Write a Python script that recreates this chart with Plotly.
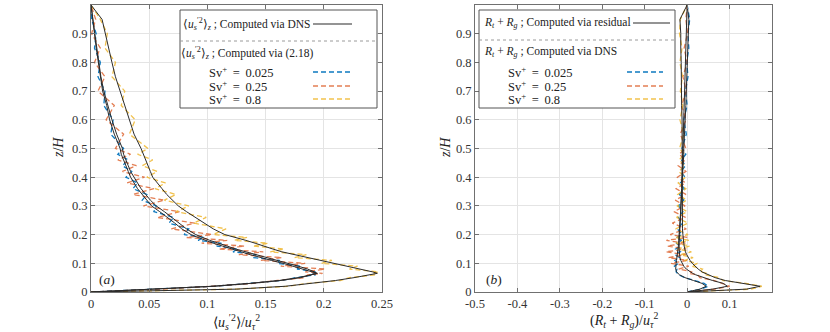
import plotly.graph_objects as go

W, H = 830, 332

# ---------------- data ----------------
z = [0.00, 0.01, 0.02, 0.03, 0.04, 0.05, 0.06, 0.065, 0.07, 0.08, 0.09, 0.10, 0.11, 0.12, 0.13,
     0.14, 0.15, 0.16, 0.17, 0.18, 0.19, 0.20, 0.22, 0.24, 0.26, 0.28, 0.30, 0.32, 0.34, 0.36,
     0.38, 0.40, 0.42, 0.44, 0.46, 0.48, 0.50, 0.55, 0.60, 0.65, 0.70, 0.75, 0.80, 0.85, 0.90,
     0.95, 1.00]

sv_labels = ["0.025", "0.25", "0.8"]

# panel (a): <u_s'^2>_z computed via DNS (black)
a_dns_025 = [0, 0.060, 0.105, 0.137, 0.162, 0.178, 0.190, 0.1945, 0.190, 0.182, 0.174, 0.165, 0.155,
             0.145, 0.137, 0.129, 0.120, 0.113, 0.105, 0.098, 0.092, 0.086, 0.078, 0.072, 0.066,
             0.059, 0.052, 0.048, 0.044, 0.040, 0.037, 0.034, 0.032, 0.030, 0.028, 0.026, 0.025,
             0.020, 0.016, 0.0135, 0.010, 0.008, 0.006, 0.0045, 0.003, 0.0015, 0.0]
a_dns_25 = [0, 0.060, 0.105, 0.137, 0.162, 0.180, 0.191, 0.194, 0.192, 0.186, 0.178, 0.169, 0.159,
            0.149, 0.141, 0.133, 0.124, 0.117, 0.109, 0.102, 0.096, 0.090, 0.082, 0.076, 0.070,
            0.063, 0.056, 0.051, 0.047, 0.043, 0.040, 0.037, 0.034, 0.032, 0.030, 0.028, 0.027,
            0.022, 0.018, 0.0145, 0.011, 0.0085, 0.0065, 0.005, 0.0033, 0.0017, 0.0]
a_dns_8 = [0, 0.125, 0.167, 0.190, 0.210, 0.226, 0.240, 0.246, 0.242, 0.231, 0.219, 0.208, 0.197,
           0.185, 0.174, 0.164, 0.156, 0.149, 0.141, 0.133, 0.124, 0.115, 0.105, 0.097, 0.089,
           0.082, 0.075, 0.070, 0.065, 0.061, 0.057, 0.053, 0.051, 0.049, 0.047, 0.045, 0.043,
           0.037, 0.033, 0.029, 0.025, 0.021, 0.018, 0.015, 0.012, 0.0095, 0.0]

# panel (a): <u_s'^2>_z computed via (2.18) (coloured, dashed)
a_eq_025 = [0, 0.060, 0.106, 0.136, 0.164, 0.176, 0.193, 0.1905, 0.193, 0.177, 0.180, 0.160, 0.162,
            0.139, 0.142, 0.122, 0.126, 0.108, 0.112, 0.092, 0.097, 0.080, 0.084, 0.067, 0.071,
            0.054, 0.056, 0.044, 0.048, 0.036, 0.040, 0.030, 0.035, 0.027, 0.032, 0.023, 0.028,
            0.017, 0.019, 0.011, 0.012, 0.006, 0.008, 0.003, 0.0045, 0.0005, 0.0]
a_eq_25 = [0, 0.061, 0.104, 0.139, 0.160, 0.184, 0.186, 0.199, 0.184, 0.201, 0.163, 0.184, 0.146,
           0.164, 0.127, 0.148, 0.110, 0.132, 0.095, 0.117, 0.082, 0.104, 0.069, 0.089, 0.057,
           0.076, 0.045, 0.063, 0.036, 0.054, 0.031, 0.046, 0.027, 0.039, 0.023, 0.034, 0.021,
           0.028, 0.013, 0.020, 0.006, 0.012, 0.003, 0.008, 0.0005, 0.004, 0.0]
a_eq_8 = [0, 0.124, 0.170, 0.186, 0.214, 0.222, 0.245, 0.243, 0.247, 0.222, 0.229, 0.198, 0.207,
          0.175, 0.185, 0.154, 0.166, 0.139, 0.152, 0.123, 0.134, 0.105, 0.116, 0.088, 0.099,
          0.073, 0.084, 0.063, 0.073, 0.055, 0.064, 0.048, 0.057, 0.044, 0.053, 0.040, 0.049,
          0.033, 0.038, 0.026, 0.029, 0.018, 0.021, 0.012, 0.014, 0.008, 0.0]

# panel (b): R_t + R_g computed via residual (black)
b_res_025 = [0, 0.030, 0.045, 0.035, 0.015, -0.005, -0.018, -0.022, -0.025, -0.027, -0.027, -0.026,
             -0.025, -0.024, -0.023, -0.022, -0.022, -0.021, -0.020, -0.020, -0.019, -0.019,
             -0.018, -0.017, -0.016, -0.015, -0.015, -0.014, -0.013, -0.012, -0.012, -0.011,
             -0.010, -0.010, -0.009, -0.008, -0.008, -0.006, -0.005, -0.003, -0.002, -0.001,
             0.000, 0.001, 0.002, 0.004, 0.0]
b_res_25 = [0, 0.060, 0.095, 0.085, 0.060, 0.038, 0.020, 0.013, 0.007, -0.002, -0.008, -0.012,
            -0.015, -0.017, -0.018, -0.019, -0.019, -0.019, -0.019, -0.018, -0.018, -0.018,
            -0.017, -0.016, -0.016, -0.015, -0.015, -0.014, -0.014, -0.013, -0.013, -0.012,
            -0.012, -0.011, -0.011, -0.010, -0.010, -0.009, -0.008, -0.007, -0.006, -0.005,
            -0.004, -0.003, -0.002, -0.001, 0.0]
b_res_8 = [0, 0.140, 0.172, 0.130, 0.090, 0.066, 0.048, 0.041, 0.035, 0.026, 0.018, 0.012, 0.007,
           0.002, -0.001, -0.004, -0.006, -0.007, -0.008, -0.009, -0.010, -0.010, -0.011, -0.011,
           -0.012, -0.012, -0.012, -0.012, -0.012, -0.012, -0.012, -0.012, -0.012, -0.012,
           -0.012, -0.012, -0.012, -0.012, -0.012, -0.013, -0.013, -0.014, -0.014, -0.015,
           -0.015, -0.017, 0.0]

# panel (b): R_t + R_g computed via DNS (coloured, dashed)
b_dns_025 = [0, 0.032, 0.050, 0.040, 0.018, -0.006, -0.020, -0.024, -0.026, -0.024, -0.030, -0.020,
             -0.029, -0.018, -0.028, -0.016, -0.027, -0.015, -0.026, -0.013, -0.025, -0.012,
             -0.023, -0.011, -0.021, -0.010, -0.020, -0.008, -0.018, -0.007, -0.016, -0.005,
             -0.015, -0.004, -0.013, -0.003, -0.012, -0.002, -0.008, 0.000, -0.004, 0.002,
             -0.001, 0.004, 0.002, 0.006, 0.0]
b_dns_25 = [0, 0.065, 0.100, 0.082, 0.064, 0.030, 0.025, 0.004, 0.012, -0.020, 0.004, -0.038,
            0.000, -0.044, -0.003, -0.050, -0.002, -0.047, -0.004, -0.049, 0.000, -0.040,
            -0.002, -0.035, -0.004, -0.031, -0.005, -0.028, -0.003, -0.026, -0.004, -0.023,
            -0.003, -0.021, -0.004, -0.019, -0.003, -0.016, -0.003, -0.013, -0.002, -0.010,
            0.000, -0.007, 0.001, -0.003, 0.0]
b_dns_8 = [0, 0.150, 0.176, 0.138, 0.085, 0.075, 0.044, 0.048, 0.030, 0.036, 0.010, 0.024, -0.006,
           0.014, -0.016, 0.010, -0.022, 0.006, -0.026, 0.004, -0.028, 0.002, -0.027, 0.002,
           -0.025, 0.000, -0.024, -0.001, -0.022, -0.003, -0.021, -0.004, -0.020, -0.005,
           -0.019, -0.006, -0.018, -0.008, -0.017, -0.010, -0.016, -0.011, -0.017, -0.012,
           -0.018, -0.016, 0.0]

xa_ticks = [0, 0.05, 0.1, 0.15, 0.2, 0.25]
xb_ticks = [-0.5, -0.4, -0.3, -0.2, -0.1, 0, 0.1]
y_ticks = [0, 0.1, 0.2, 0.3, 0.4, 0.5, 0.6, 0.7, 0.8, 0.9, 1]

# ---------------- styling ----------------
COLORS = ["rgba(0,114,189,0.95)", "rgba(217,83,25,0.75)", "rgba(237,177,32,0.8)"]
BLACK = "#2b2b2b"
DASH = "5px,3px"
FONT = "Liberation Serif"


def fx(p):
    return p / W


def fy(p):
    return 1 - p / H


fig = go.Figure()

for vals, c in zip([a_eq_025, a_eq_25, a_eq_8], COLORS):
    fig.add_trace(go.Scatter(x=vals, y=z, mode="lines", xaxis="x", yaxis="y",
                             line=dict(color=c, width=1.3, dash=DASH), showlegend=False))
for vals in [a_dns_025, a_dns_25, a_dns_8]:
    fig.add_trace(go.Scatter(x=vals, y=z, mode="lines", xaxis="x", yaxis="y",
                             line=dict(color=BLACK, width=1), showlegend=False))
for vals, c in zip([b_dns_025, b_dns_25, b_dns_8], COLORS):
    fig.add_trace(go.Scatter(x=vals, y=z, mode="lines", xaxis="x2", yaxis="y2",
                             line=dict(color=c, width=1.3, dash=DASH), showlegend=False))
for vals in [b_res_025, b_res_25, b_res_8]:
    fig.add_trace(go.Scatter(x=vals, y=z, mode="lines", xaxis="x2", yaxis="y2",
                             line=dict(color=BLACK, width=1), showlegend=False))

ax_common = dict(showgrid=True, gridcolor="#e4e4e4", gridwidth=1, showline=True,
                 linecolor="#707070", linewidth=1, mirror="ticks", ticks="inside",
                 ticklen=4, tickcolor="#707070", zeroline=False, automargin=False,
                 tickfont=dict(family=FONT, size=12.5, color="#333"))

ydom = [fy(292), fy(5)]
fig.update_layout(
    width=W, height=H, margin=dict(l=0, r=0, t=0, b=0, pad=0, autoexpand=False),
    paper_bgcolor="white", plot_bgcolor="white",
    xaxis=dict(domain=[fx(91), fx(382)], range=[0, 0.25], anchor="y",
               tickvals=xa_ticks, ticktext=[str(t) for t in xa_ticks], **ax_common),
    yaxis=dict(domain=ydom, range=[0, 1], anchor="x",
               tickvals=y_ticks, ticktext=[str(t) for t in y_ticks], **ax_common),
    xaxis2=dict(domain=[fx(475), fx(772)], range=[-0.5, 0.2], anchor="y2",
                tickvals=xb_ticks, ticktext=[str(t) for t in xb_ticks], **ax_common),
    yaxis2=dict(domain=ydom, range=[0, 1], anchor="x2",
                tickvals=y_ticks, ticktext=[str(t) for t in y_ticks], **ax_common),
)

shapes = []
ann = []


def text(x, y, s, size=12, xanchor="left", angle=0):
    ann.append(dict(x=fx(x), y=fy(y), xref="paper", yref="paper", text=s, showarrow=False,
                    xanchor=xanchor, yanchor="middle", textangle=angle, borderpad=0,
                    font=dict(family=FONT, size=size, color="#222")))


def seg(x0, x1, y, color, dash="solid", width=1.3):
    shapes.append(dict(type="line", xref="paper", yref="paper", x0=fx(x0), x1=fx(x1),
                       y0=fy(y), y1=fy(y), line=dict(color=color, width=width, dash=dash)))


us2 = "⟨<i>u</i><sub><i>s</i></sub><sup>′2</sup>⟩"
rr = "<i>R<sub>t</sub></i> + <i>R<sub>g</sub></i>"
sv_eq = "Sv<sup>+</sup>&#8201;&nbsp;=&nbsp;&#8201;"

# legend (a)
shapes.append(dict(type="rect", xref="paper", yref="paper", x0=fx(180), x1=fx(377),
                   y0=fy(108), y1=fy(10), fillcolor="white",
                   line=dict(color="#555", width=1), layer="above"))
seg(180, 377, 41, "#9a9a9a", dash="dot", width=1)
text(182, 24, us2 + "<sub><i>z</i></sub> ; Computed via DNS", 11.5)
seg(313, 352, 24, BLACK, width=1.2)
text(180, 53, us2 + "<sub><i>z</i></sub> ; Computed via (2.18)", 11.5)
for i, (lab, c) in enumerate(zip(sv_labels, COLORS)):
    yy = [72, 86, 99][i]
    text(208, yy, sv_eq + lab, 12.5)
    seg(313, 352, yy, c, dash=DASH, width=1.5)

# legend (b)
shapes.append(dict(type="rect", xref="paper", yref="paper", x0=fx(479), x1=fx(675),
                   y0=fy(108), y1=fy(10), fillcolor="white",
                   line=dict(color="#555", width=1), layer="above"))
seg(479, 675, 40, "#9a9a9a", dash="dot", width=1)
text(483, 23, rr + " ; Computed via residual", 11.5)
seg(633, 670, 23, BLACK, width=1.2)
text(483, 52, rr + " ; Computed via DNS", 11.5)
for i, (lab, c) in enumerate(zip(sv_labels, COLORS)):
    yy = [72, 86, 99][i]
    text(507, yy, sv_eq + lab, 12.5)
    seg(627, 663, yy, c, dash=DASH, width=1.5)

# panel labels
text(98, 279, "(<i>a</i>)", 13.5)
text(485, 279, "(<i>b</i>)", 13.5)

# axis titles
text(236, 322, us2 + "/<i>u</i><sub><i>τ</i></sub><sup>2</sup>", 14, xanchor="center")
text(624, 320, "(" + rr + ")/<i>u</i><sub><i>τ</i></sub><sup>2</sup>", 14, xanchor="center")
text(58, 148, "<i>z</i>/<i>H</i>", 14, xanchor="center", angle=-90)
text(445, 148, "<i>z</i>/<i>H</i>", 14, xanchor="center", angle=-90)

fig.update_layout(shapes=shapes, annotations=ann)
fig.write_html(
    "out.html",
    config={"displayModeBar": False},
    post_script="document.body.style.margin='0';document.body.style.padding='0';"
                "document.body.style.overflow='hidden';",
)
